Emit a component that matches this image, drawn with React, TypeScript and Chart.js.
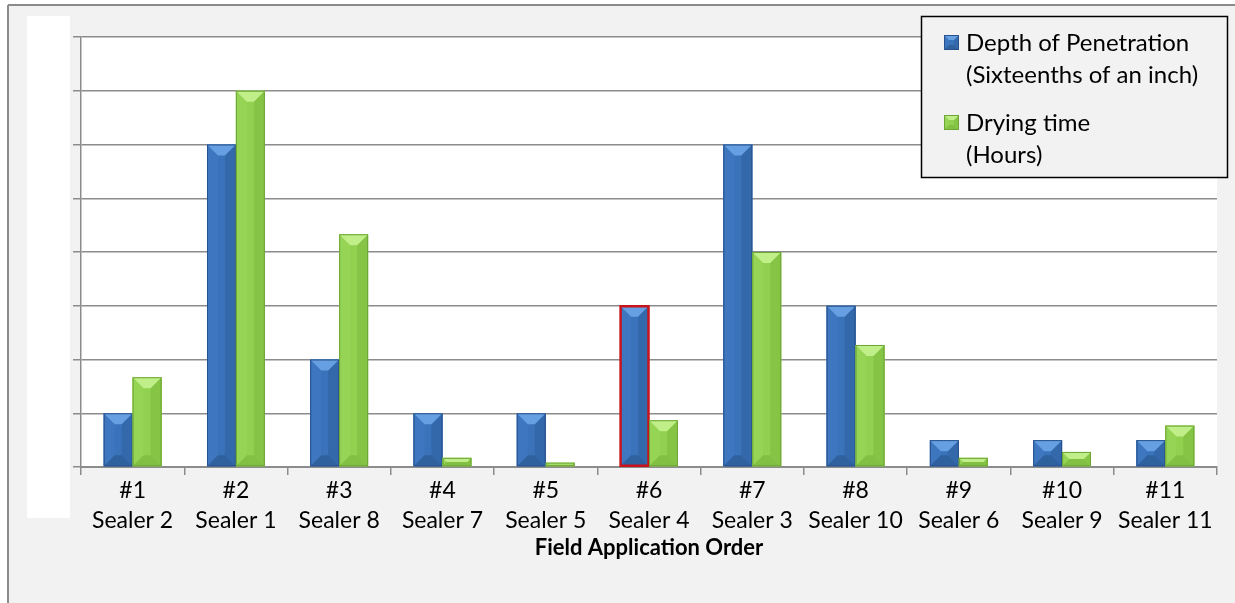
import React, { useEffect, useRef } from "react";
import { Chart, registerables } from "chart.js";

Chart.register(...registerables);

// ---- Data ----
const orderLabels = ["#1", "#2", "#3", "#4", "#5", "#6", "#7", "#8", "#9", "#10", "#11"];
const sealerLabels = [
  "Sealer 2", "Sealer 1", "Sealer 8", "Sealer 7", "Sealer 5", "Sealer 4",
  "Sealer 3", "Sealer 10", "Sealer 6", "Sealer 9", "Sealer 11",
];
const penetrationValues = [1, 6, 2, 1, 1, 3, 6, 3, 0.5, 0.5, 0.5];
const dryingValues = [1.67, 7, 4.33, 0.17, 0.08, 0.87, 4, 2.27, 0.17, 0.28, 0.77];
const penetrationName = ["Depth of Penetration", "(Sixteenths of an inch)"];
const dryingName = ["Drying time", "(Hours)"];
const xAxisTitle = "Field Application Order";
const yMin = 0;
const yMax = 8;
const yStep = 1;
const highlightedIndex = 5;

const FONT = "Lato, 'Open Sans', sans-serif";

type Palette = { base: string; top: string; left: string; right: string; bottom: string; edge: string };
const bluePal: Palette = {
  base: "#3b73ba", top: "#66a0e2", left: "#3e77bf", right: "#3368aa", bottom: "#30619f", edge: "#28528c",
};
const greenPal: Palette = {
  base: "#92d050", top: "#c0ee88", left: "#95d454", right: "#86c446", bottom: "#82c044", edge: "#6da537",
};

function drawBevelRect(ctx: CanvasRenderingContext2D, x0: number, y0: number, x1: number, y1: number, pal: Palette, maxB: number) {
  const w = x1 - x0;
  const h = y1 - y0;
  if (w <= 0 || h <= 0) return;
  const b = Math.min(maxB, w / 2, h / 2);
  const poly = (pts: number[][], color: string) => {
    ctx.beginPath();
    ctx.moveTo(pts[0][0], pts[0][1]);
    for (let i = 1; i < pts.length; i++) ctx.lineTo(pts[i][0], pts[i][1]);
    ctx.closePath();
    ctx.fillStyle = color;
    ctx.fill();
  };
  ctx.fillStyle = pal.base;
  ctx.fillRect(x0, y0, w, h);
  poly([[x0, y0], [x0 + b, y0 + b], [x0 + b, y1 - b], [x0, y1]], pal.left);
  poly([[x1, y0], [x1 - b, y0 + b], [x1 - b, y1 - b], [x1, y1]], pal.right);
  poly([[x0, y1], [x1, y1], [x1 - b, y1 - b], [x0 + b, y1 - b]], pal.bottom);
  poly([[x0, y0], [x1, y0], [x1 - b, y0 + b], [x0 + b, y0 + b]], pal.top);
}

const framePlugin = {
  id: "frame",
  beforeDraw(chart: any) {
    const ctx: CanvasRenderingContext2D = chart.ctx;
    const { width, height, chartArea } = chart;
    ctx.save();
    ctx.fillStyle = "#ffffff";
    ctx.fillRect(0, 0, width, height);
    ctx.fillStyle = "#f2f2f2";
    ctx.fillRect(8, 5, width - 8, height - 5);
    ctx.strokeStyle = "#8a8a8a";
    ctx.lineWidth = 2;
    ctx.beginPath();
    ctx.moveTo(8, 5);
    ctx.lineTo(width, 5);
    ctx.moveTo(8, 5);
    ctx.lineTo(8, height);
    ctx.stroke();
    // white panel where value labels would be
    ctx.fillStyle = "#ffffff";
    ctx.fillRect(27, 16, 43, 502);
    // plot area
    ctx.fillRect(chartArea.left, chartArea.top, chartArea.right - chartArea.left, chartArea.bottom - chartArea.top);
    ctx.restore();
  },
};

const bevelPlugin = {
  id: "bevelBars",
  afterDatasetsDraw(chart: any) {
    const ctx: CanvasRenderingContext2D = chart.ctx;
    ctx.save();
    chart.data.datasets.forEach((ds: any, di: number) => {
      const meta = chart.getDatasetMeta(di);
      const pal = di === 0 ? bluePal : greenPal;
      meta.data.forEach((el: any, i: number) => {
        const p = el.getProps(["x", "y", "base", "width"], true);
        const x0 = p.x - p.width / 2;
        const x1 = p.x + p.width / 2;
        const y0 = Math.min(p.y, p.base);
        const y1 = Math.max(p.y, p.base);
        drawBevelRect(ctx, x0, y0, x1, y1, pal, 11);
        if (di === 0 && i === highlightedIndex) {
          ctx.strokeStyle = "#c8141c";
          ctx.lineWidth = 2.5;
        } else {
          ctx.strokeStyle = pal.edge;
          ctx.lineWidth = 1;
        }
        ctx.strokeRect(x0 + 0.5, y0 + 0.5, x1 - x0 - 1, y1 - y0 - 1);
      });
    });
    ctx.restore();
  },
};

const legendPlugin = {
  id: "boxLegend",
  afterDraw(chart: any) {
    const ctx: CanvasRenderingContext2D = chart.ctx;
    ctx.save();
    ctx.fillStyle = "#f2f2f2";
    ctx.fillRect(921, 16, 307, 162);
    ctx.strokeStyle = "#000000";
    ctx.lineWidth = 1.5;
    ctx.strokeRect(921.5, 16.5, 306, 161);
    drawBevelRect(ctx, 944, 35, 959, 50, bluePal, 5);
    ctx.strokeStyle = bluePal.edge;
    ctx.lineWidth = 1;
    ctx.strokeRect(944.5, 35.5, 14, 14);
    drawBevelRect(ctx, 944, 115, 959, 130, greenPal, 5);
    ctx.strokeStyle = greenPal.edge;
    ctx.strokeRect(944.5, 115.5, 14, 14);
    ctx.fillStyle = "#000000";
    ctx.font = `24px ${FONT}`;
    ctx.textBaseline = "middle";
    ctx.textAlign = "left";
    ctx.fillText(penetrationName[0], 966, 43);
    ctx.fillText(penetrationName[1], 966, 75);
    ctx.fillText(dryingName[0], 966, 123);
    ctx.fillText(dryingName[1], 966, 155);
    ctx.restore();
  },
};

export default function App() {
  const canvasRef = useRef<HTMLCanvasElement | null>(null);

  useEffect(() => {
    if (!canvasRef.current) return;
    const labels = orderLabels.map((o, i) => [o, sealerLabels[i]]);
    const chart = new Chart(canvasRef.current, {
      type: "bar",
      data: {
        labels,
        datasets: [
          {
            label: penetrationName.join(" "),
            data: penetrationValues,
            backgroundColor: bluePal.base,
            borderWidth: 0,
            categoryPercentage: 0.56,
            barPercentage: 1,
          },
          {
            label: dryingName.join(" "),
            data: dryingValues,
            backgroundColor: greenPal.base,
            borderWidth: 0,
            categoryPercentage: 0.56,
            barPercentage: 1,
          },
        ],
      },
      options: {
        responsive: false,
        animation: false,
        layout: { padding: { left: 0, top: 37, right: 18, bottom: 0 } },
        plugins: {
          legend: { display: false },
          title: { display: false },
          tooltip: { enabled: false },
        },
        scales: {
          x: {
            grid: {
              display: true,
              drawOnChartArea: false,
              drawTicks: true,
              tickLength: 8,
              color: "#8c8c8c",
              lineWidth: 1.5,
              offset: true,
            },
            border: { display: true, color: "#8c8c8c", width: 2 },
            ticks: {
              color: "#000000",
              font: { family: FONT, size: 23, lineHeight: 1.3 },
              padding: 1,
              maxRotation: 0,
              autoSkip: false,
            },
            title: {
              display: true,
              text: xAxisTitle,
              color: "#000000",
              font: { family: FONT, size: 22, weight: "bold", lineHeight: 1.2 },
              padding: { top: 0, bottom: 42 },
            },
            afterFit(scale: any) {
              scale.height = 136;
            },
          },
          y: {
            min: yMin,
            max: yMax,
            ticks: { display: false, stepSize: yStep },
            grid: {
              color: "#8c8c8c",
              lineWidth: 1.5,
              drawTicks: true,
              tickLength: 8,
            },
            border: { display: true, color: "#8c8c8c", width: 1.5 },
            afterFit(scale: any) {
              scale.width = 81;
            },
          },
        },
      },
      plugins: [framePlugin, bevelPlugin, legendPlugin],
    });
    return () => chart.destroy();
  }, []);

  return (
    <div style={{ position: "absolute", left: 0, top: 0, width: 1235, height: 603 }}>
      <canvas ref={canvasRef} width={1235} height={603} style={{ display: "block" }} />
    </div>
  );
}
